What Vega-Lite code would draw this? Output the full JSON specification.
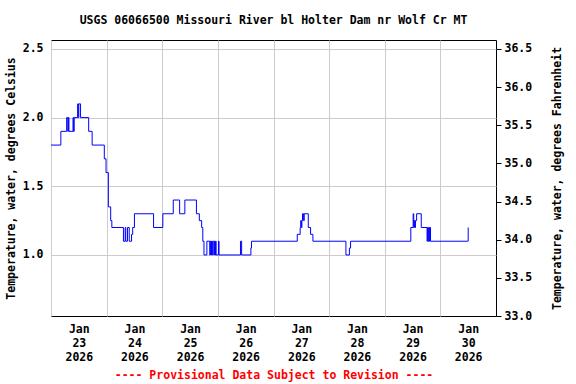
{
  "$schema": "https://vega.github.io/schema/vega-lite/v6.json",
  "width": 445,
  "height": 276,
  "autosize": {"type": "none"},
  "padding": {"left": 51, "top": 40, "right": 80, "bottom": 68},
  "title": {
    "text": "USGS 06066500 Missouri River bl Holter Dam nr Wolf Cr MT",
    "font": "DejaVu Sans Mono",
    "fontSize": 11.5,
    "fontWeight": "bold",
    "color": "#000000",
    "anchor": "middle",
    "offset": 14
  },
  "data": {
    "values": [
      {"time": "2026-01-23T00:00:00", "temp": 1.8},
      {"time": "2026-01-23T04:15:00", "temp": 1.9},
      {"time": "2026-01-23T06:45:00", "temp": 2.0},
      {"time": "2026-01-23T07:15:00", "temp": 1.9},
      {"time": "2026-01-23T07:30:00", "temp": 2.0},
      {"time": "2026-01-23T07:45:00", "temp": 1.9},
      {"time": "2026-01-23T09:30:00", "temp": 2.0},
      {"time": "2026-01-23T09:45:00", "temp": 1.9},
      {"time": "2026-01-23T10:00:00", "temp": 2.0},
      {"time": "2026-01-23T11:30:00", "temp": 2.1},
      {"time": "2026-01-23T11:45:00", "temp": 2.0},
      {"time": "2026-01-23T12:00:00", "temp": 2.1},
      {"time": "2026-01-23T12:45:00", "temp": 2.0},
      {"time": "2026-01-23T16:15:00", "temp": 1.9},
      {"time": "2026-01-23T17:45:00", "temp": 1.8},
      {"time": "2026-01-23T23:00:00", "temp": 1.7},
      {"time": "2026-01-23T23:45:00", "temp": 1.6},
      {"time": "2026-01-24T00:45:00", "temp": 1.35},
      {"time": "2026-01-24T01:45:00", "temp": 1.25},
      {"time": "2026-01-24T02:15:00", "temp": 1.2},
      {"time": "2026-01-24T07:15:00", "temp": 1.1},
      {"time": "2026-01-24T08:00:00", "temp": 1.2},
      {"time": "2026-01-24T08:15:00", "temp": 1.1},
      {"time": "2026-01-24T09:00:00", "temp": 1.2},
      {"time": "2026-01-24T09:45:00", "temp": 1.1},
      {"time": "2026-01-24T10:45:00", "temp": 1.15},
      {"time": "2026-01-24T11:15:00", "temp": 1.2},
      {"time": "2026-01-24T12:00:00", "temp": 1.3},
      {"time": "2026-01-24T20:15:00", "temp": 1.2},
      {"time": "2026-01-25T00:15:00", "temp": 1.3},
      {"time": "2026-01-25T04:45:00", "temp": 1.4},
      {"time": "2026-01-25T07:30:00", "temp": 1.3},
      {"time": "2026-01-25T09:45:00", "temp": 1.4},
      {"time": "2026-01-25T14:45:00", "temp": 1.3},
      {"time": "2026-01-25T16:00:00", "temp": 1.25},
      {"time": "2026-01-25T17:00:00", "temp": 1.2},
      {"time": "2026-01-25T17:30:00", "temp": 1.1},
      {"time": "2026-01-25T18:00:00", "temp": 1.0},
      {"time": "2026-01-25T19:15:00", "temp": 1.1},
      {"time": "2026-01-25T20:30:00", "temp": 1.0},
      {"time": "2026-01-25T20:45:00", "temp": 1.1},
      {"time": "2026-01-25T21:00:00", "temp": 1.0},
      {"time": "2026-01-25T21:15:00", "temp": 1.1},
      {"time": "2026-01-25T21:30:00", "temp": 1.0},
      {"time": "2026-01-25T21:45:00", "temp": 1.1},
      {"time": "2026-01-25T22:15:00", "temp": 1.0},
      {"time": "2026-01-25T22:30:00", "temp": 1.1},
      {"time": "2026-01-25T22:45:00", "temp": 1.0},
      {"time": "2026-01-25T23:00:00", "temp": 1.1},
      {"time": "2026-01-25T23:15:00", "temp": 1.0},
      {"time": "2026-01-26T00:15:00", "temp": 1.1},
      {"time": "2026-01-26T00:30:00", "temp": 1.0},
      {"time": "2026-01-26T09:45:00", "temp": 1.1},
      {"time": "2026-01-26T10:15:00", "temp": 1.0},
      {"time": "2026-01-26T14:15:00", "temp": 1.05},
      {"time": "2026-01-26T14:30:00", "temp": 1.1},
      {"time": "2026-01-27T10:15:00", "temp": 1.15},
      {"time": "2026-01-27T11:30:00", "temp": 1.2},
      {"time": "2026-01-27T11:45:00", "temp": 1.25},
      {"time": "2026-01-27T12:00:00", "temp": 1.2},
      {"time": "2026-01-27T12:15:00", "temp": 1.25},
      {"time": "2026-01-27T12:30:00", "temp": 1.3},
      {"time": "2026-01-27T13:00:00", "temp": 1.25},
      {"time": "2026-01-27T13:15:00", "temp": 1.3},
      {"time": "2026-01-27T15:00:00", "temp": 1.2},
      {"time": "2026-01-27T16:00:00", "temp": 1.15},
      {"time": "2026-01-27T17:00:00", "temp": 1.1},
      {"time": "2026-01-28T07:15:00", "temp": 1.0},
      {"time": "2026-01-28T08:45:00", "temp": 1.05},
      {"time": "2026-01-28T09:15:00", "temp": 1.1},
      {"time": "2026-01-29T11:15:00", "temp": 1.2},
      {"time": "2026-01-29T12:15:00", "temp": 1.3},
      {"time": "2026-01-29T12:30:00", "temp": 1.2},
      {"time": "2026-01-29T12:45:00", "temp": 1.25},
      {"time": "2026-01-29T13:00:00", "temp": 1.2},
      {"time": "2026-01-29T13:15:00", "temp": 1.25},
      {"time": "2026-01-29T13:45:00", "temp": 1.3},
      {"time": "2026-01-29T15:45:00", "temp": 1.2},
      {"time": "2026-01-29T18:15:00", "temp": 1.1},
      {"time": "2026-01-29T18:30:00", "temp": 1.2},
      {"time": "2026-01-29T18:45:00", "temp": 1.1},
      {"time": "2026-01-29T19:00:00", "temp": 1.2},
      {"time": "2026-01-29T19:15:00", "temp": 1.1},
      {"time": "2026-01-29T19:30:00", "temp": 1.2},
      {"time": "2026-01-29T19:45:00", "temp": 1.1},
      {"time": "2026-01-30T11:45:00", "temp": 1.1},
      {"time": "2026-01-30T12:00:00", "temp": 1.2}
    ]
  },
  "encoding": {
    "x": {
      "field": "time",
      "type": "temporal",
      "scale": {"domain": [{"year": 2026, "month": 1, "date": 23}, {"year": 2026, "month": 1, "date": 31}]},
      "axis": {
        "values": [
          {"year": 2026, "month": 1, "date": 23},
          {"year": 2026, "month": 1, "date": 24},
          {"year": 2026, "month": 1, "date": 25},
          {"year": 2026, "month": 1, "date": 26},
          {"year": 2026, "month": 1, "date": 27},
          {"year": 2026, "month": 1, "date": 28},
          {"year": 2026, "month": 1, "date": 29},
          {"year": 2026, "month": 1, "date": 30}
        ],
        "labelExpr": "[timeFormat(datum.value, '%b'), timeFormat(datum.value, '%d'), timeFormat(datum.value, '%Y')]",
        "labelOffset": 27.8,
        "labelAlign": "center",
        "labelBaseline": "top",
        "labelLineHeight": 14,
        "labelPadding": 7,
        "labelFlush": false,
        "labelOverlap": false,
        "labelBound": false,
        "ticks": false,
        "domain": false,
        "grid": true,
        "title": "---- Provisional Data Subject to Revision ----",
        "titleColor": "#ff0000",
        "titlePadding": 7
      }
    }
  },
  "layer": [
    {
      "mark": {"type": "line", "interpolate": "step-after", "color": "#0000ff", "strokeWidth": 1},
      "encoding": {
        "y": {
          "field": "temp",
          "type": "quantitative",
          "scale": {"domain": [0.5556, 2.565], "zero": false, "nice": false},
          "axis": {
            "values": [1.0, 1.5, 2.0, 2.5],
            "format": ".1f",
            "ticks": false,
            "domain": false,
            "grid": true,
            "labelPadding": 8,
            "title": "Temperature, water, degrees Celsius",
            "titlePadding": 6
          }
        }
      }
    },
    {
      "mark": {"type": "line", "opacity": 0},
      "encoding": {
        "y": {
          "field": "temp",
          "type": "quantitative",
          "scale": {"domain": [33.0, 36.617], "zero": false, "nice": false},
          "axis": {
            "orient": "right",
            "values": [33.0, 33.5, 34.0, 34.5, 35.0, 35.5, 36.0, 36.5],
            "format": ".1f",
            "ticks": true,
            "tickSize": 5,
            "tickColor": "#000000",
            "domain": false,
            "grid": false,
            "labelPadding": 3,
            "title": "Temperature, water, degrees Fahrenheit",
            "titleAngle": 270,
            "titleBaseline": "bottom",
            "titlePadding": 31
          }
        }
      }
    }
  ],
  "resolve": {"scale": {"y": "independent"}},
  "config": {
    "background": "#ffffff",
    "view": {"stroke": "#000000", "strokeWidth": 1},
    "axis": {
      "labelFont": "DejaVu Sans Mono",
      "labelFontWeight": "bold",
      "labelFontSize": 11.5,
      "labelColor": "#000000",
      "titleFont": "DejaVu Sans Mono",
      "titleFontWeight": "bold",
      "titleFontSize": 11.5,
      "titleColor": "#000000",
      "gridColor": "#cccccc",
      "gridWidth": 1,
      "gridOpacity": 1
    }
  }
}
